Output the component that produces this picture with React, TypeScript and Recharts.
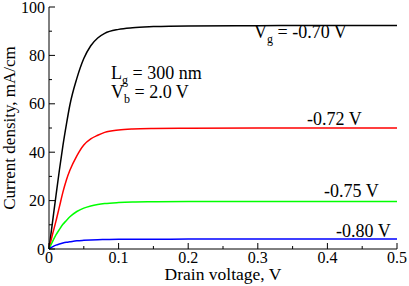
import React from 'react';
import { LineChart, Line, XAxis, YAxis } from 'recharts';

// Drain voltage sample points (V)
const drainV = [0, 0.005, 0.01, 0.015, 0.02, 0.025, 0.03, 0.04, 0.05, 0.06, 0.07, 0.08, 0.1, 0.12, 0.15, 0.2, 0.3, 0.4, 0.5];

// Current density (mA/cm) for each gate voltage
const vg070 = [0, 11, 22, 32.75, 42.75, 51.5, 59.5, 70.5, 78.7, 84, 87.2, 89.1, 90.75, 91.45, 91.9, 92.2, 92.3, 92.4, 92.4];
const vg072 = [0, 6, 11.5, 17.5, 23.5, 28.5, 32.5, 38.5, 43, 45.5, 47, 48.2, 49.2, 49.6, 49.8, 49.9, 50, 50, 50];
const vg075 = [0, 3, 5.8, 8.1, 10.2, 11.8, 13.3, 15.5, 16.9, 17.8, 18.4, 18.8, 19.2, 19.4, 19.5, 19.6, 19.6, 19.6, 19.6];
const vg080 = [0, 0.9, 1.6, 2.1, 2.5, 2.8, 3.0, 3.4, 3.6, 3.75, 3.85, 3.9, 4.0, 4.05, 4.05, 4.1, 4.1, 4.1, 4.1];

const xTicks = [0, 0.05, 0.1, 0.15, 0.2, 0.25, 0.3, 0.35, 0.4, 0.45, 0.5];
const xLabels = ['0', '', '0.1', '', '0.2', '', '0.3', '', '0.4', '', '0.5'];
const yTicks = [0, 10, 20, 30, 40, 50, 60, 70, 80, 90, 100];
const yLabels = ['0', '', '20', '', '40', '', '60', '', '80', '', '100'];

const SERIES = [
  { key: 'vg070', values: vg070, color: '#000000' },
  { key: 'vg072', values: vg072, color: '#ff0000' },
  { key: 'vg075', values: vg075, color: '#00ff00' },
  { key: 'vg080', values: vg080, color: '#0000ff' },
];

const data = drainV.map((v, i) => {
  const row: Record<string, number> = { v };
  SERIES.forEach((s) => (row[s.key] = s.values[i]));
  return row;
});

const FONT = "'Liberation Serif', 'DejaVu Serif', serif";
const txt = { fontFamily: FONT, fill: '#000' };

const BottomTick = (props: any) => {
  const { x, y, index } = props;
  const label = xLabels[index];
  const len = label ? 6 : 3;
  return (
    <g>
      <line x1={x} y1={y} x2={x} y2={y - len} stroke="#000" />
      {label && (
        <text x={x} y={y + 14} textAnchor="middle" fontSize={16} style={txt}>
          {label}
        </text>
      )}
    </g>
  );
};

const TopTick = (props: any) => {
  const { x, y, index } = props;
  const len = xLabels[index] ? 6 : 3;
  return <line x1={x} y1={y} x2={x} y2={y + len} stroke="#000" />;
};

const LeftTick = (props: any) => {
  const { x, y, index } = props;
  const label = yLabels[index];
  const len = label ? 6 : 3;
  return (
    <g>
      <line x1={x} y1={y} x2={x + len} y2={y} stroke="#000" />
      {label && (
        <text x={x - 4} y={y} dy="0.35em" textAnchor="end" fontSize={16} style={txt}>
          {label}
        </text>
      )}
    </g>
  );
};

const RightTick = (props: any) => {
  const { x, y, index } = props;
  const len = yLabels[index] ? 6 : 3;
  return <line x1={x} y1={y} x2={x - len} y2={y} stroke="#000" />;
};

const Sub = ({ x, y, main, sub, rest }: any) => (
  <text x={x} y={y} fontSize={18} style={txt}>
    <tspan>{main}</tspan>
    <tspan dy={5} fontSize={12}>{sub}</tspan>
    <tspan dy={-5}>{rest}</tspan>
  </text>
);

export default function App() {
  return (
    <div style={{ position: 'absolute', left: 0, top: 0, width: 409, height: 286, background: '#fff', fontFamily: FONT }}>
      <LineChart width={409} height={286} data={data} margin={{ top: 7, right: 12, bottom: 0, left: 0 }} style={{ fontFamily: FONT }}>
        <XAxis
          dataKey="v"
          type="number"
          domain={[0, 0.5]}
          ticks={xTicks}
          interval={0}
          height={37}
          tickSize={0}
          tickMargin={0}
          tickLine={false}
          tick={BottomTick}
          axisLine={{ stroke: '#000' }}
        />
        <XAxis
          xAxisId="top"
          orientation="top"
          dataKey="v"
          type="number"
          domain={[0, 0.5]}
          ticks={xTicks}
          interval={0}
          height={0}
          tickSize={0}
          tickMargin={0}
          tickLine={false}
          tick={TopTick}
          axisLine={{ stroke: '#000' }}
        />
        <YAxis
          type="number"
          domain={[0, 100]}
          ticks={yTicks}
          interval={0}
          width={49}
          tickSize={0}
          tickMargin={0}
          tickLine={false}
          tick={LeftTick}
          axisLine={{ stroke: '#000' }}
        />
        <YAxis
          yAxisId="right"
          orientation="right"
          type="number"
          domain={[0, 100]}
          ticks={yTicks}
          interval={0}
          width={0}
          tickSize={0}
          tickMargin={0}
          tickLine={false}
          tick={RightTick}
          axisLine={{ stroke: '#000' }}
        />
        {SERIES.map((s) => (
          <Line
            key={s.key}
            dataKey={s.key}
            type="monotone"
            stroke={s.color}
            strokeWidth={1.5}
            dot={false}
            isAnimationActive={false}
          />
        ))}
        <text x={15} y={128} transform="rotate(-90 15 128)" textAnchor="middle" fontSize={17} style={txt}>
          Current density, mA/cm
        </text>
        <text x={223} y={280} textAnchor="middle" fontSize={17.5} style={txt}>
          Drain voltage, V
        </text>
        <Sub x={254} y={38} main="V" sub="g" rest=" = -0.70 V" />
        <Sub x={111} y={79} main="L" sub="g" rest=" = 300 nm" />
        <Sub x={111} y={98} main="V" sub="b" rest=" = 2.0 V" />
        <text x={307} y={125} fontSize={18} style={txt}>-0.72 V</text>
        <text x={324} y={197} fontSize={18} style={txt}>-0.75 V</text>
        <text x={336} y={237} fontSize={18} style={txt}>-0.80 V</text>
      </LineChart>
    </div>
  );
}
